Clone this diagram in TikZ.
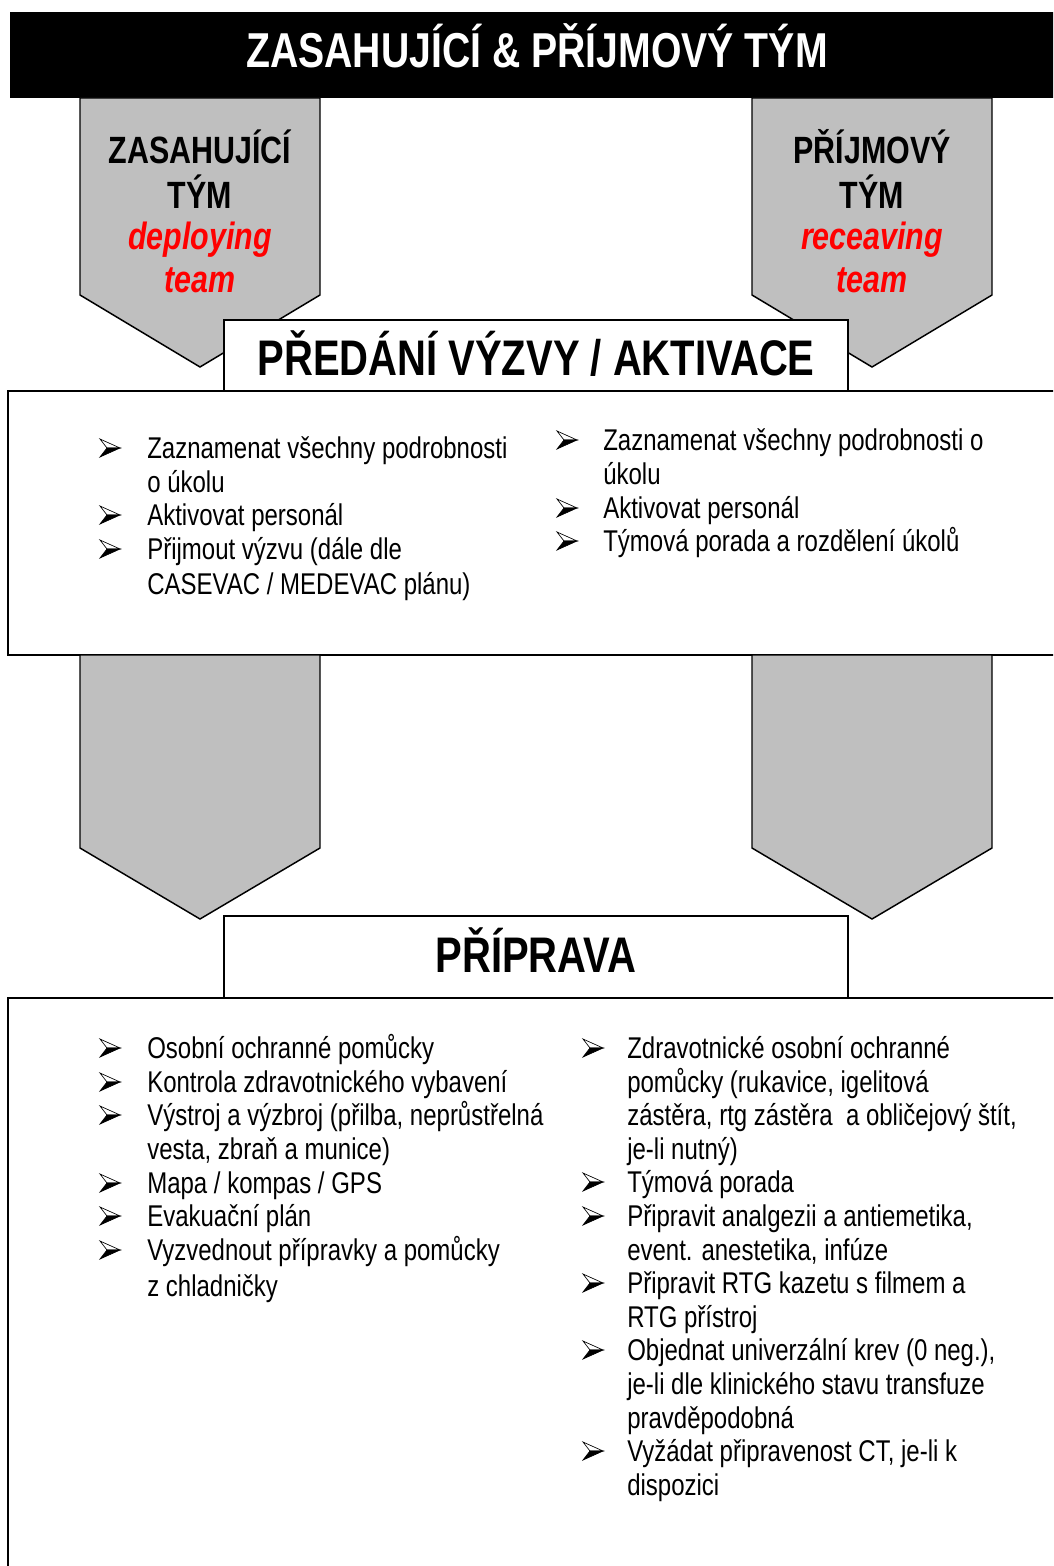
\documentclass[tikz,border=0pt]{standalone}
\usepackage{fontspec}
\setmainfont[FakeStretch=0.8]{Liberation Sans}
\definecolor{shadegray}{RGB}{191,191,191}
\definecolor{redtext}{RGB}{255,0,0}
\tikzset{
  graybox/.style={fill=shadegray, draw=black, line width=1.1pt, line join=miter},
  framebox/.style={fill=white, draw=black, line width=1.5pt},
  lst/.style={anchor=base west, inner sep=0pt, font=\fontsize{22.5}{27}\selectfont},
  bulup/.style={draw=black, fill=white, line width=0.5pt, line join=miter},
  buldown/.style={fill=black, draw=black, line width=0.5pt, line join=miter},
  hdr/.style={anchor=base, inner sep=0pt, font=\bfseries\fontsize{37.5}{40}\selectfont},
  pent/.style={anchor=base, inner sep=0pt, font=\bfseries\fontsize{28.5}{32}\selectfont},
  pentred/.style={anchor=base, inner sep=0pt, text=redtext, font=\bfseries\itshape\fontsize{28.5}{32}\selectfont},
}
\newcommand\itm[5]{%
  \coordinate (#1a) at (#2,#4);
  \begin{scope}[shift={(#1a)}]
    \path[bulup] (0,-19) -- (20,-10) -- (7,-10) -- cycle;
    \path[buldown] (7,-10) -- (20,-10) -- (0,-1) -- cycle;
  \end{scope}
  \node[lst] (#1) at (#3,#4) {#5};}
\newcommand\cnt[4]{\node[lst] (#1) at (#2,#3) {#4};}
\begin{document}
\begin{tikzpicture}[x=0.75pt,y=-0.75pt]
\useasboundingbox (0,0) rectangle (1053,1566);
\clip (0,0) rectangle (1053,1566);
% header bar
\fill[black] (10,12) rectangle (1070,98);
\node[anchor=base, inner sep=0pt, text=white, font=\bfseries\fontsize{36.75}{40}\selectfont] (title) at (537,68) {ZASAHUJÍCÍ \& PŘÍJMOVÝ TÝM};
% upper pentagons
\draw[graybox] (80,98) -- (320,98) -- (320,295) -- (200,367) -- (80,295) -- cycle;
\draw[graybox] (752,98) -- (992,98) -- (992,295) -- (872,367) -- (752,295) -- cycle;
\node[pent] (lt1) at (200,164) {ZASAHUJÍCÍ};
\node[pent] (lt2) at (200,208) {TÝM};
\node[pentred] (lt3) at (200,249) {deploying};
\node[pentred] (lt4) at (200,292) {team};
\node[pent] (rt1) at (872,164) {PŘÍJMOVÝ};
\node[pent] (rt2) at (872,208) {TÝM};
\node[pentred] (rt3) at (872,249) {receaving};
\node[pentred] (rt4) at (872,292) {team};
% box 1
\draw[framebox] (8,391) rectangle (1070,655);
\draw[framebox] (224,320) rectangle (848,391);
\node[hdr] (h1) at (536,375) {PŘEDÁNÍ VÝZVY / AKTIVACE};
\itm{a1}{100}{147}{458}{Zaznamenat všechny podrobnosti}
\cnt{a2}{147}{492}{o úkolu}
\itm{a3}{100}{147}{525}{Aktivovat personál}
\itm{a4}{100}{147}{559}{Přijmout výzvu (dále dle}
\cnt{a5}{147}{594}{CASEVAC / MEDEVAC plánu)}
\itm{b1}{557}{603}{450}{Zaznamenat všechny podrobnosti o}
\cnt{b2}{603}{484}{úkolu}
\itm{b3}{557}{603}{518}{Aktivovat personál}
\itm{b4}{557}{603}{551}{Týmová porada a rozdělení úkolů}
% lower pentagons
\draw[graybox] (80,655) -- (320,655) -- (320,848) -- (200,919) -- (80,848) -- cycle;
\draw[graybox] (752,655) -- (992,655) -- (992,848) -- (872,919) -- (752,848) -- cycle;
% box 2
\draw[framebox] (8,998) rectangle (1070,1590);
\draw[framebox] (224,916) rectangle (848,998);
\node[hdr] (h2) at (536,972) {PŘÍPRAVA};
\itm{c1}{100}{147}{1058}{Osobní ochranné pomůcky}
\itm{c2}{100}{147}{1092}{Kontrola zdravotnického vybavení}
\itm{c3}{100}{147}{1125}{Výstroj a výzbroj (přilba, neprůstřelná}
\cnt{c4}{147}{1159}{vesta, zbraň a munice)}
\itm{c5}{100}{147}{1193}{Mapa / kompas / GPS}
\itm{c6}{100}{147}{1226}{Evakuační plán}
\itm{c7}{100}{147}{1260}{Vyzvednout přípravky a pomůcky}
\cnt{c8}{147}{1296}{z chladničky}
\itm{d1}{583}{627}{1058}{Zdravotnické osobní ochranné}
\cnt{d2}{627}{1092}{pomůcky (rukavice, igelitová}
\cnt{d3}{627}{1125}{zástěra, rtg zástěra\ \ a obličejový štít,}
\cnt{d4}{627}{1159}{je-li nutný)}
\itm{d5}{583}{627}{1192}{Týmová porada}
\itm{d6}{583}{627}{1226}{Připravit analgezii a antiemetika,}
\cnt{d7}{627}{1260}{event. anestetika, infúze}
\itm{d8}{583}{627}{1293}{Připravit RTG kazetu s filmem a}
\cnt{d9}{627}{1327}{RTG přístroj}
\itm{d10}{583}{627}{1360}{Objednat univerzální krev (0 neg.),}
\cnt{d11}{627}{1394}{je-li dle klinického stavu transfuze}
\cnt{d12}{627}{1428}{pravděpodobná}
\itm{d13}{583}{627}{1461}{Vyžádat připravenost CT, je-li k}
\cnt{d14}{627}{1495}{dispozici}
\end{tikzpicture}
\end{document}
